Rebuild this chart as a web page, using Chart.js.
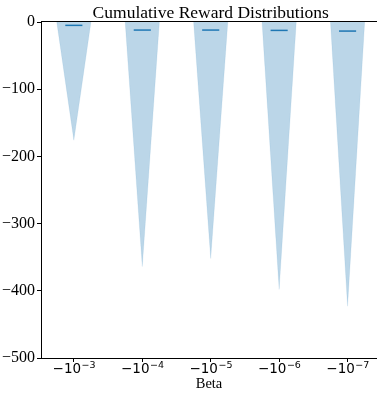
<!DOCTYPE html>
<html>
<head>
<meta charset="utf-8">
<script src="https://cdn.jsdelivr.net/npm/chart.js@4.4.1/dist/chart.umd.min.js"></script>
<style>
html,body{margin:0;padding:0;background:#fff;}
#wrap{width:377px;height:395px;position:relative;}
</style>
</head>
<body>
<div id="wrap"><canvas id="c"></canvas></div>
<script>
// ---- data ----
const tickBases = ["−10", "−10", "−10", "−10", "−10"];
const tickExponents = ["−3", "−4", "−5", "−6", "−7"];
const positions = [1, 2, 3, 4, 5];
const minValues = [-176, -364, -352, -398, -423];   // tip of each violin
const maxValues = [0, 0, 0, 0, 0];                  // widest part (top, clipped at 0)
const meanValues = [-5, -12, -12, -12.5, -13.5];
const yTicks = [0, -100, -200, -300, -400, -500];
const titleText = 'Cumulative Reward Distributions';
const xTitle = 'Beta';

const VIOLIN_HALF = 0.25;   // half width of a violin in category units
const MEAN_HALF = 0.125;

const datasets = [];
positions.forEach((p, i) => {
  datasets.push({
    data: [
      {x: p - VIOLIN_HALF, y: maxValues[i]},
      {x: p, y: minValues[i]},
      {x: p + VIOLIN_HALF, y: maxValues[i]}
    ],
    showLine: true,
    fill: 'shape',
    backgroundColor: 'rgba(31,119,180,0.3)',
    borderColor: 'rgba(31,119,180,0.08)',
    borderWidth: 1,
    pointRadius: 0,
    tension: 0
  });
});
positions.forEach((p, i) => {
  datasets.push({
    data: [
      {x: p - MEAN_HALF, y: meanValues[i]},
      {x: p + MEAN_HALF, y: meanValues[i]}
    ],
    showLine: true,
    fill: false,
    borderColor: '#1f77b4',
    borderWidth: 1.5,
    pointRadius: 0
  });
});

const decorations = {
  id: 'decorations',
  afterDraw(chart) {
    const {ctx, chartArea} = chart;
    const xs = chart.scales.x;
    ctx.save();
    // top spine
    ctx.strokeStyle = '#000';
    ctx.lineWidth = 1;
    ctx.beginPath();
    ctx.moveTo(chartArea.left, Math.round(chartArea.top) - 0.5);
    ctx.lineTo(chartArea.right, Math.round(chartArea.top) - 0.5);
    ctx.stroke();
    // title centred over the axes' x range
    ctx.fillStyle = '#000';
    ctx.font = '17.5px "Liberation Serif"';
    ctx.textAlign = 'center';
    ctx.textBaseline = 'alphabetic';
    ctx.fillText(titleText, xs.getPixelForValue(3), 18);
    // x tick labels with superscript exponents
    ctx.textAlign = 'left';
    const baseFont = '13.5px "DejaVu Sans"';
    const expFont = '9.5px "DejaVu Sans"';
    positions.forEach((p, i) => {
      const px = xs.getPixelForValue(p);
      ctx.font = baseFont;
      const wb = ctx.measureText(tickBases[i]).width;
      ctx.font = expFont;
      const we = ctx.measureText(tickExponents[i]).width;
      const start = px - (wb + we) / 2;
      ctx.font = baseFont;
      ctx.fillText(tickBases[i], start, 372.5);
      ctx.font = expFont;
      ctx.fillText(tickExponents[i], start + wb + 0.5, 368);
    });
    ctx.restore();
  }
};

new Chart(document.getElementById('c'), {
  type: 'scatter',
  data: {datasets},
  plugins: [decorations],
  options: {
    responsive: true,
    maintainAspectRatio: false,
    animation: false,
    layout: {padding: {left: 0, right: 0, top: 22, bottom: 0}},
    plugins: {
      legend: {display: false},
      tooltip: {enabled: false},
      title: {display: false}
    },
    scales: {
      x: {
        type: 'linear',
        min: 0.52,
        max: 5.43,
        afterBuildTicks: axis => { axis.ticks = positions.map(v => ({value: v})); },
        afterFit: s => { s.height = 37; },
        ticks: {display: false},
        grid: {drawOnChartArea: false, drawTicks: true, tickLength: 4, color: '#000'},
        border: {display: true, color: '#000'},
        title: {
          display: true,
          text: xTitle,
          color: '#000',
          font: {family: 'Liberation Serif', size: 14.5},
          padding: {top: 0, bottom: 2}
        }
      },
      y: {
        min: -500,
        max: 0,
        afterBuildTicks: axis => { axis.ticks = yTicks.map(v => ({value: v})); },
        afterFit: s => { s.width = 41; },
        ticks: {
          callback: v => (v < 0 ? '−' + Math.abs(v) : String(v)),
          color: '#000',
          font: {family: 'Liberation Serif', size: 16},
          padding: 2
        },
        grid: {drawOnChartArea: false, drawTicks: true, tickLength: 4, color: '#000'},
        border: {display: true, color: '#000'}
      }
    }
  }
});
</script>
</body>
</html>
